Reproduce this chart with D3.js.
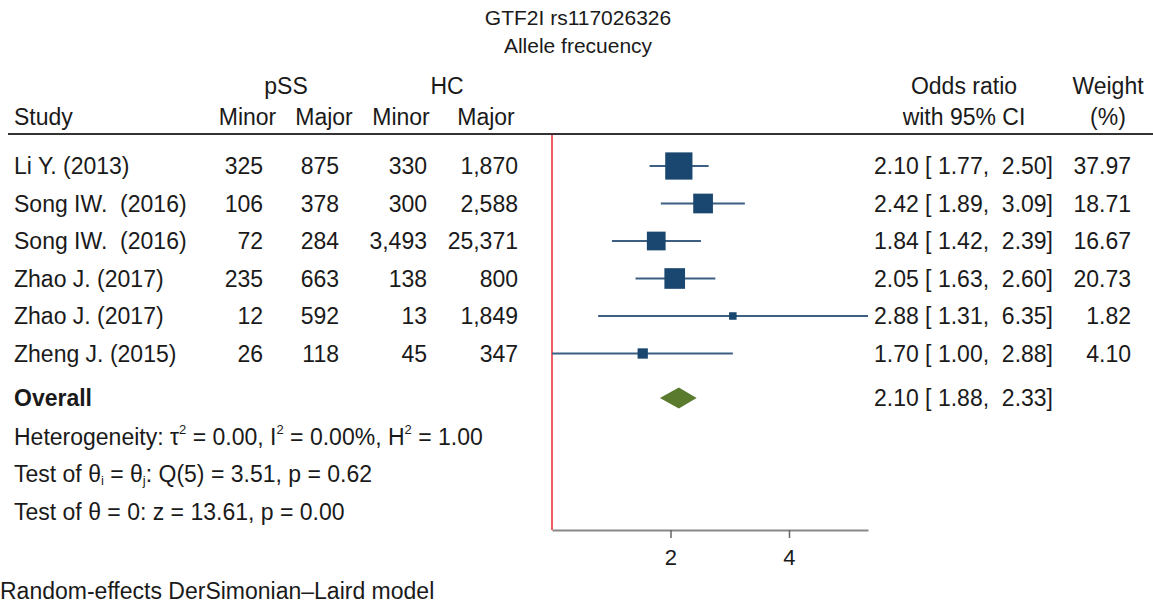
<!DOCTYPE html>
<html>
<head>
<meta charset="utf-8">
<script src="https://cdn.jsdelivr.net/npm/d3@7"></script>
<style>
  body { margin: 0; background: #fff; }
  text { font-family: "Liberation Sans", Arial, sans-serif; fill: #1a1a1a; white-space: pre; }
</style>
</head>
<body>
<svg id="chart" width="1153" height="604"></svg>
<script>
// data
var studies = ["Li Y. (2013)", "Song IW.  (2016)", "Song IW.  (2016)", "Zhao J. (2017)", "Zhao J. (2017)", "Zheng J. (2015)"];
var pssMinor = [325, 106, 72, 235, 12, 26];
var pssMajor = [875, 378, 284, 663, 592, 118];
var hcMinor = [330, 300, 3493, 138, 13, 45];
var hcMajor = [1870, 2588, 25371, 800, 1849, 347];
var oddsRatio = [2.10, 2.42, 1.84, 2.05, 2.88, 1.70];
var ciLow = [1.77, 1.89, 1.42, 1.63, 1.31, 1.00];
var ciHigh = [2.50, 3.09, 2.39, 2.60, 6.35, 2.88];
var weight = [37.97, 18.71, 16.67, 20.73, 1.82, 4.10];
var overall = {or: 2.10, lo: 1.88, hi: 2.33};
var xTicks = [2, 4];

var fs = 23;
var rowH = 37.5, firstRow = 166;
var plotLeft = 552, plotRight = 868, plotTop = 134, axisY = 530;

var chart = d3.select("#chart");

var x = d3.scaleLog().domain([1, 6.35]).range([plotLeft, plotRight]);
var y = function(i){ return firstRow + i * rowH; };
var boxSize = d3.scaleSqrt().domain([0, 40]).range([0, 25.9]);

var fcount = d3.format(",");
var f2 = d3.format(".2f");

function txt(xp, yp, s, anchor, size, weightStr){
    return chart.append("text")
        .attr("x", xp)
        .attr("y", yp)
        .attr("font-size", size || fs)
        .attr("font-weight", weightStr || "normal")
        .style("text-anchor", anchor || "start")
        .text(s);
}

// title
txt(578, 25, "GTF2I rs117026326", "middle", 21);
txt(578, 53, "Allele frecuency", "middle", 21);

// headers
txt(286, 94, "pSS", "middle");
txt(447, 94, "HC", "middle");
txt(964, 94, "Odds ratio", "middle");
txt(1108, 94, "Weight", "middle");
txt(14, 125, "Study");
txt(247.5, 125, "Minor", "middle");
txt(324, 125, "Major", "middle");
txt(401, 125, "Minor", "middle");
txt(486, 125, "Major", "middle");
txt(964, 125, "with 95% CI", "middle");
txt(1108, 125, "(%)", "middle");

chart.append("line")
    .attr("x1", 8).attr("x2", 1153)
    .attr("y1", plotTop).attr("y2", plotTop)
    .style("stroke", "#333")
    .style("stroke-width", 2);

// no-effect line
chart.append("line")
    .attr("x1", x(1)).attr("x2", x(1))
    .attr("y1", plotTop + 1).attr("y2", axisY)
    .style("stroke", "#e8282e")
    .style("stroke-width", 1.5);

// axis
var axis = d3.axisBottom(x).tickValues(xTicks).tickFormat(d3.format("d")).tickSize(8).tickSizeOuter(0);
var gAxis = chart.append("g").attr("transform", "translate(0," + axisY + ")").call(axis);
gAxis.select(".domain").style("stroke", "#888").style("stroke-width", 2);
gAxis.selectAll(".tick line").style("stroke", "#666").style("stroke-width", 1.5);
gAxis.selectAll(".tick text")
    .attr("font-size", 22)
    .attr("dy", "0")
    .attr("y", 35)
    .style("font-family", "'Liberation Sans', Arial, sans-serif")
    .style("fill", "#1a1a1a");

// study rows
for (var i = 0; i < studies.length; i++){
    var yc = y(i);
    var base = yc + 8;
    txt(14, base, studies[i]);
    txt(263, base, fcount(pssMinor[i]), "end");
    txt(339, base, fcount(pssMajor[i]), "end");
    txt(427, base, fcount(hcMinor[i]), "end");
    txt(518, base, fcount(hcMajor[i]), "end");
    txt(1053, base, f2(oddsRatio[i]) + " [ " + f2(ciLow[i]) + ",  " + f2(ciHigh[i]) + "]", "end");
    txt(1131, base, f2(weight[i]), "end");

    chart.append("line")
        .attr("x1", x(ciLow[i])).attr("x2", x(ciHigh[i]))
        .attr("y1", yc).attr("y2", yc)
        .style("stroke", "#3d5f82")
        .style("stroke-width", 2);

    var s = boxSize(weight[i]);
    chart.append("rect")
        .attr("x", x(oddsRatio[i]) - s / 2)
        .attr("y", yc - s / 2)
        .attr("width", s)
        .attr("height", s)
        .attr("fill", "#1a476f")
        .attr("stroke", "#1a476f")
        .attr("stroke-width", 2);
}

// overall
var yo = 398;
txt(14, yo + 8, "Overall", "start", fs, "bold");
txt(1053, yo + 8, f2(overall.or) + " [ " + f2(overall.lo) + ",  " + f2(overall.hi) + "]", "end");
var dh = 10.5;
chart.append("path")
    .attr("d", "M" + x(overall.lo) + "," + yo +
               "L" + x(overall.or) + "," + (yo - dh) +
               "L" + x(overall.hi) + "," + yo +
               "L" + x(overall.or) + "," + (yo + dh) + "Z")
    .attr("fill", "#5a7a2e");

// heterogeneity lines
var t1 = chart.append("text").attr("x", 14).attr("y", 445).attr("font-size", fs);
t1.append("tspan").text("Heterogeneity: \u03c4");
t1.append("tspan").attr("dy", -11).attr("font-size", 13).text("2");
t1.append("tspan").attr("dy", 11).text(" = 0.00, I");
t1.append("tspan").attr("dy", -11).attr("font-size", 13).text("2");
t1.append("tspan").attr("dy", 11).text(" = 0.00%, H");
t1.append("tspan").attr("dy", -11).attr("font-size", 13).text("2");
t1.append("tspan").attr("dy", 11).text(" = 1.00");

var t2 = chart.append("text").attr("x", 14).attr("y", 482).attr("font-size", fs);
t2.append("tspan").text("Test of \u03b8");
t2.append("tspan").attr("dy", 3).attr("font-size", 13).text("i");
t2.append("tspan").attr("dy", -3).text(" = \u03b8");
t2.append("tspan").attr("dy", 3).attr("font-size", 13).text("j");
t2.append("tspan").attr("dy", -3).text(": Q(5) = 3.51, p = 0.62");

txt(14, 520, "Test of \u03b8 = 0: z = 13.61, p = 0.00");

txt(0, 599, "Random-effects DerSimonian\u2013Laird model");
</script>
</body>
</html>
